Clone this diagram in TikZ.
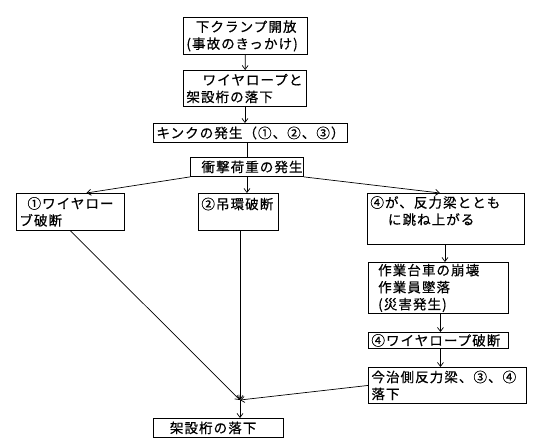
\documentclass[tikz,border=0pt]{standalone}
\usepackage{fontspec}
\setmainfont{Noto Sans CJK JP}[LetterSpace=8, FakeBold=0.6]
\usetikzlibrary{arrows.meta}
\tikzset{
  flowbox/.style={draw, line width=0.9pt, anchor=north west, align=left,
    inner xsep=3pt, inner ysep=1pt},
  flowline/.style={line width=0.7pt},
}

\begin{document}
\begin{tikzpicture}[x=1pt, y=-1pt, >={Straight Barb[length=4pt,width=6pt]},
    font=\fontsize{13.5}{17}\selectfont]
        \useasboundingbox (0,0) rectangle (540,446);
        % upper chain
        \node[flowbox, text width=118pt, minimum height=37pt] (clamp) at (183,17)
          {\hspace*{0.7em}下クランプ開放\\(事故のきっかけ)};
        \node[flowbox, text width=117pt, minimum height=36pt] (wirefall) at (183,70)
          {\hspace*{1.2em}ワイヤロープと\\架設桁の落下};
        \node[flowbox, text width=188pt, minimum height=19pt] (kink) at (153,123)
          {キンクの発生（①、②、③）};
        \node[flowbox, text width=107pt, minimum height=19pt] (impact) at (190,157)
          {\hspace*{0.6em}衝撃荷重の発生};
        % three branches
        \node[flowbox, text width=102pt, minimum height=37pt] (wire1) at (16,193)
          {\hspace*{0.6em}①ワイヤロー\\ブ破断};
        \node[flowbox, text width=74pt, minimum height=37pt] (ring2) at (198,193)
          {②吊環破断\\\mbox{}};
        \node[flowbox, text width=151pt, minimum height=51pt] (jump4) at (367,193)
          {④が、反力梁ととも\\\hspace*{1.3em}に跳ね上がる\\\mbox{}};
        \node[flowbox, text width=134pt, minimum height=51pt] (cart) at (368,262)
          {\hspace*{0.5em}作業台車の崩壊\\\hspace*{0.5em}作業員墜落\\\hspace*{0.5em}(災害発生)};
        \node[flowbox, text width=134pt, minimum height=16pt] (wire4) at (368,332)
          {④ワイヤロープ破断};
        \node[flowbox, text width=152pt, minimum height=36pt] (beam) at (368,367)
          {今治側反力梁、③、④\\落下};
        \node[flowbox, text width=124pt, minimum height=19pt] (girder) at (153,418)
          {\hspace*{1em}架設桁の落下};
        \coordinate (join) at (240,400);
        % connectors
        \draw[flowline, ->] (clamp) -- (wirefall);
        \draw[flowline, ->] (wirefall.south) -- (wirefall.south |- kink.north);
        \draw[flowline] (kink.south -| impact.south) -- (impact.north);
        \draw[flowline, ->] (impact.south) -- (impact.south |- ring2.north);
        \draw[flowline, ->] (impact.south west) -- ([xshift=16pt]wire1.north);
        \draw[flowline, ->] (impact.south east) -- ([xshift=-6pt]jump4.north);
        \draw[flowline, ->] ([xshift=-1pt]jump4.south) -- ([xshift=-1pt]jump4.south |- cart.north);
        \draw[flowline, ->] ([xshift=2pt]cart.south) -- ([xshift=2pt]cart.south |- wire4.north);
        \draw[flowline, ->] ([xshift=2pt]wire4.south) -- ([xshift=2pt]wire4.south |- beam.north);
        \draw[flowline, ->] (wire1.south) -- (join);
        \draw[flowline, ->] (join |- ring2.south) -- (join);
        \draw[flowline, ->] (beam.west) -- (join);
        \draw[flowline, ->] (join) -- (join |- girder.north);
      \end{tikzpicture}
\end{document}
